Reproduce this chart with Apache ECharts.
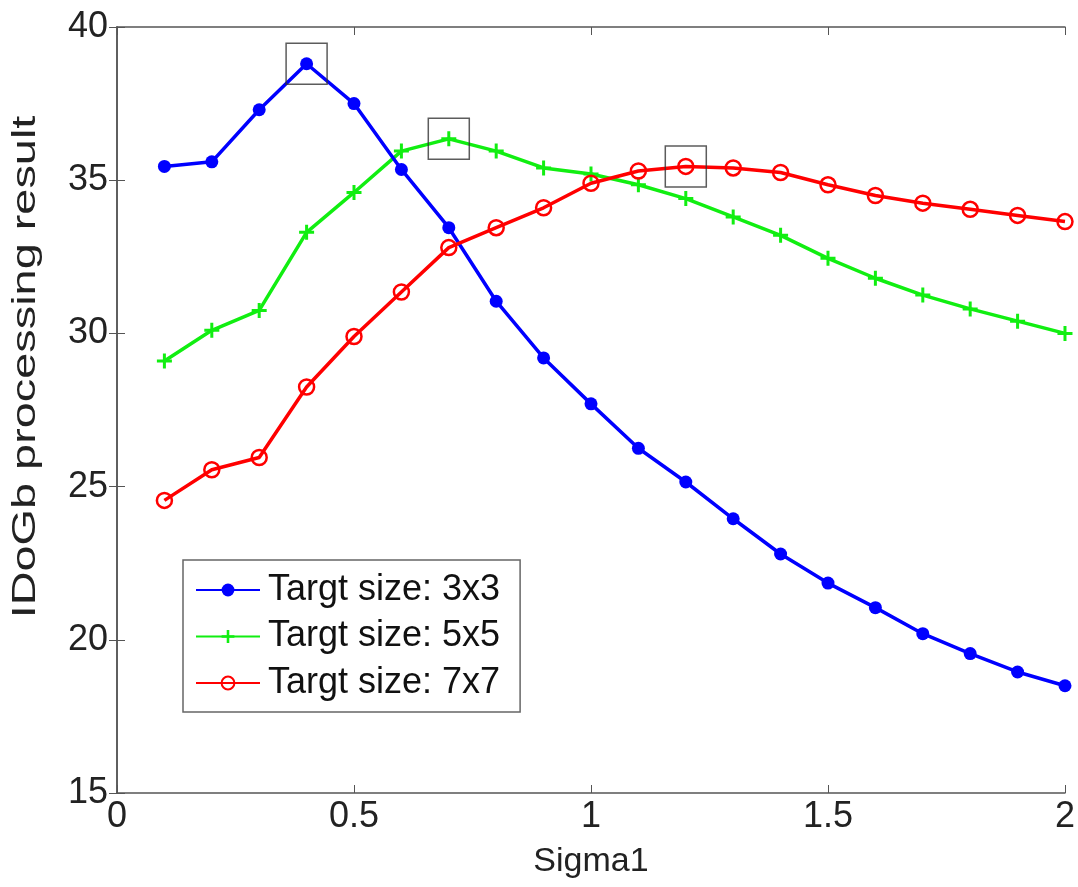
<!DOCTYPE html>
<html>
<head>
<meta charset="utf-8">
<script src="https://cdn.jsdelivr.net/npm/echarts@6/dist/echarts.min.js"></script>
<style>
  html, body { margin: 0; padding: 0; background: #fff; }
  #chart { width: 1078px; height: 887px; }
</style>
</head>
<body>
<div id="chart"></div>
<script>
var sigma = [0.1, 0.2, 0.3, 0.4, 0.5, 0.6, 0.7, 0.8, 0.9, 1.0, 1.1, 1.2, 1.3, 1.4, 1.5, 1.6, 1.7, 1.8, 1.9, 2.0];
var size3 = [35.45, 35.6, 37.3, 38.8, 37.5, 35.35, 33.45, 31.05, 29.2, 27.7, 26.25, 25.15, 23.95, 22.8, 21.85, 21.05, 20.2, 19.55, 18.95, 18.5];
var size5 = [29.1, 30.1, 30.75, 33.3, 34.6, 35.95, 36.35, 35.95, 35.4, 35.2, 34.85, 34.4, 33.8, 33.2, 32.45, 31.8, 31.25, 30.8, 30.4, 30.0];
var size7 = [24.55, 25.55, 25.95, 28.25, 29.9, 31.35, 32.8, 33.45, 34.1, 34.9, 35.3, 35.45, 35.4, 35.25, 34.85, 34.5, 34.25, 34.05, 33.85, 33.65];
var names = ['Targt size: 3x3', 'Targt size: 5x5', 'Targt size: 7x7'];
var yTicks = [15, 20, 25, 30, 35, 40];
var yTitle = 'IDoGb processing result';
var xTitle = 'Sigma1';

function pairs(ys) {
  var out = [];
  for (var i = 0; i < sigma.length; i++) out.push([sigma[i], ys[i]]);
  return out;
}

// peak of each curve gets a box
function peak(ys) {
  var best = 0;
  for (var i = 1; i < ys.length; i++) if (ys[i] > ys[best]) best = i;
  return [sigma[best], ys[best]];
}

var plusPath = 'path://M4,0h2v10h-2z M0,4h10v2h-10z';
var axisColor = '#555';
var font = 'Liberation Sans, Arial, sans-serif';

var chart = echarts.init(document.getElementById('chart'));
chart.setOption({
  backgroundColor: '#fff',
  animation: false,
  grid: { left: 117, right: 13, top: 27, bottom: 94 },
  legend: {
    data: names,
    orient: 'vertical',
    left: 183,
    top: 560,
    padding: [12, 20, 11, 12],
    borderColor: '#666',
    borderWidth: 1.5,
    backgroundColor: '#fff',
    itemWidth: 64,
    itemHeight: 16,
    itemGap: 10.5,
    textStyle: { fontFamily: font, fontSize: 36, color: '#111', lineHeight: 36, padding: [0, 0, 0, 3] }
  },
  // ylabel is stretched along its length in the original
  graphic: [{
    type: 'text',
    left: null,
    x: 26, y: 367,
    rotation: Math.PI / 2,
    scaleX: 1.42,
    style: { text: yTitle, font: '33px ' + font, fill: '#222', align: 'center', verticalAlign: 'middle' }
  }],
  xAxis: [{
    type: 'value', min: 0, max: 2, interval: 0.5,
    name: xTitle, nameLocation: 'middle', nameGap: 52,
    nameTextStyle: { fontFamily: font, fontSize: 34, color: '#222' },
    axisLine: { lineStyle: { color: axisColor, width: 1.5 } },
    axisTick: { inside: true, length: 8, lineStyle: { color: axisColor } },
    axisLabel: { fontFamily: font, fontSize: 36, color: '#222', margin: 6 },
    splitLine: { show: false }
  }, {
    type: 'value', position: 'top', min: 0, max: 2, interval: 0.5,
    axisLine: { lineStyle: { color: axisColor, width: 1.5 } },
    axisTick: { inside: true, length: 8, lineStyle: { color: axisColor } },
    axisLabel: { show: false }, splitLine: { show: false }
  }],
  yAxis: [{
    type: 'value', min: yTicks[0], max: yTicks[yTicks.length - 1], interval: 5,
    axisLine: { show: true, lineStyle: { color: axisColor, width: 1.5 } },
    axisTick: { show: true, inside: true, length: 8, lineStyle: { color: axisColor } },
    axisLabel: { fontFamily: font, fontSize: 36, color: '#222', margin: 9 },
    splitLine: { show: false }
  }, {
    type: 'value', position: 'right', min: yTicks[0], max: yTicks[yTicks.length - 1], interval: 5,
    axisLine: { show: true, lineStyle: { color: axisColor, width: 1.5 } },
    axisTick: { show: true, inside: true, length: 8, lineStyle: { color: axisColor } },
    axisLabel: { show: false }, splitLine: { show: false }
  }],
  series: [{
    name: names[0], type: 'line', data: pairs(size3),
    symbol: 'circle', symbolSize: 13, showAllSymbol: true,
    lineStyle: { color: '#0000ff', width: 3.5 },
    itemStyle: { color: '#0000ff' }, z: 3
  }, {
    name: names[1], type: 'line', data: pairs(size5),
    symbol: plusPath, symbolSize: 15, showAllSymbol: true,
    lineStyle: { color: '#11ee11', width: 3.5 },
    itemStyle: { color: '#11ee11' }, z: 2
  }, {
    name: names[2], type: 'line', data: pairs(size7),
    symbol: 'circle', symbolSize: 15, showAllSymbol: true,
    lineStyle: { color: '#ff0000', width: 3.5 },
    itemStyle: { color: 'rgba(255,255,255,0)', borderColor: '#ff0000', borderWidth: 2.5 }, z: 4
  }, {
    name: 'peaks', type: 'scatter',
    data: [peak(size3), peak(size5), peak(size7)],
    symbol: 'rect', symbolSize: 41, silent: true,
    itemStyle: { color: 'rgba(0,0,0,0)', borderColor: '#333', borderWidth: 1.5 }, z: 5
  }]
});
</script>
</body>
</html>
